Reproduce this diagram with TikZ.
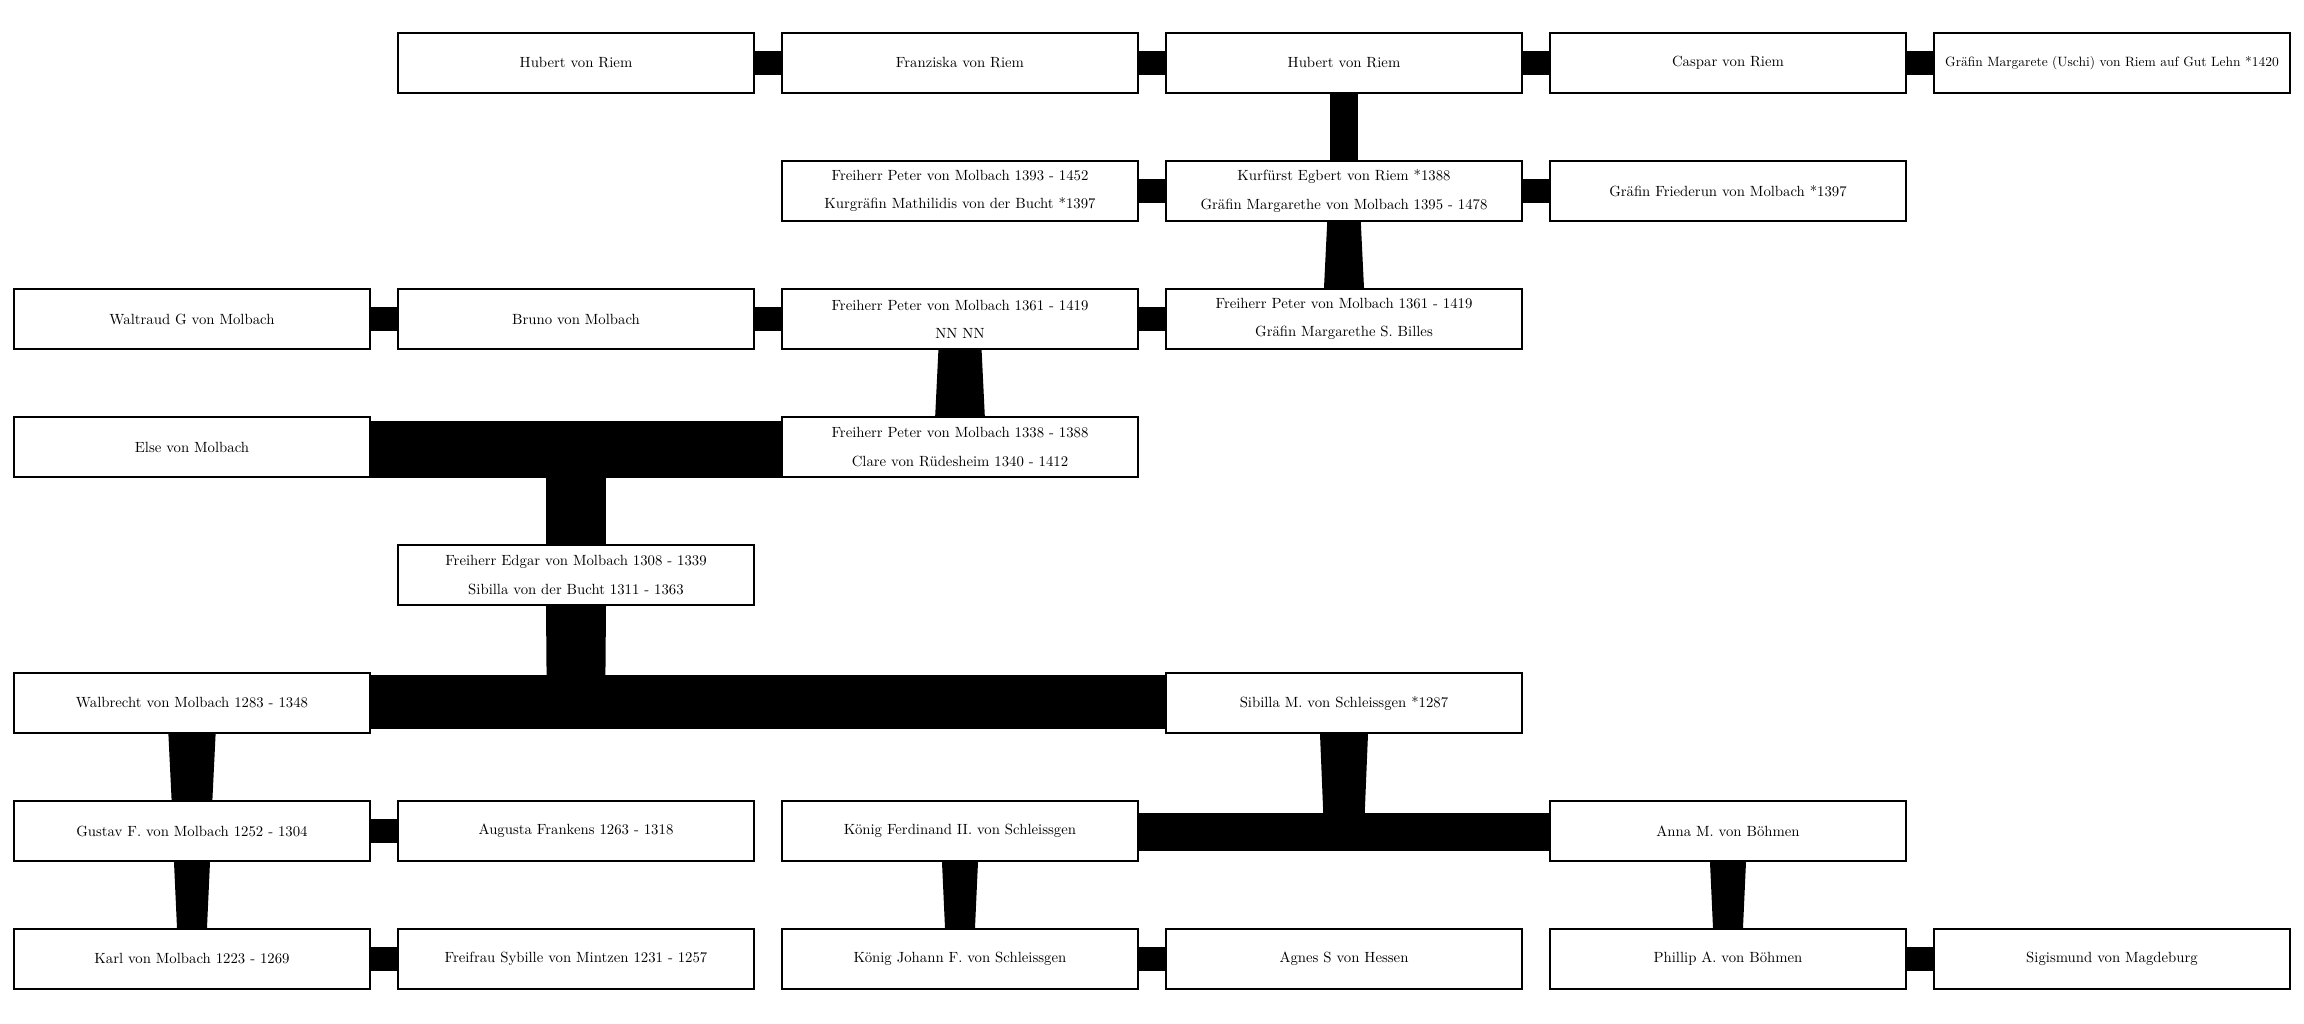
\documentclass[tikz,border=0pt]{standalone}
\begin{document}
\begin{tikzpicture}[x=96mm,y=-32mm,
  person/.style={draw,line width=.6mm,fill=white,minimum width=89mm,
    minimum height=15mm,inner sep=0pt,align=center,
    font=\fontsize{10.5}{20}\selectfont}]
  \useasboundingbox (-.5,-.4922) rectangle (5.5,7.5078);
  % one box per couple, bars for marriages and descent
  \def\mar#1#2{\fill ([yshift=3mm]#1.east) rectangle ([yshift=-3mm]#2.west);}
  \def\wide#1#2#3#4{\fill ([yshift=#3]#1.east) rectangle ([yshift=#4]#2.west);}
  \def\des#1#2#3#4{\fill ([xshift=-#3]#1) -- ([xshift=#3]#1)
    -- ([xshift=#4]#2) -- ([xshift=-#4]#2) -- cycle;}
  \node[person] (hubA) at (1,0) {Hubert von Riem};
  \node[person] (franz) at (2,0) {Franziska von Riem};
  \node[person] (hubB) at (3,0) {Hubert von Riem};
  \node[person] (caspar) at (4,0) {Caspar von Riem};
  \node[person,font=\fontsize{9.6}{20}\selectfont] (uschi) at (5,0)
    {Gräfin Margarete (Uschi) von Riem auf Gut Lehn *1420};
  \node[person] (peterA) at (2,1) {Freiherr Peter von Molbach 1393 - 1452\\Kurgräfin Mathilidis von der Bucht *1397};
  \node[person] (egbert) at (3,1) {Kurfürst Egbert von Riem *1388\\Gräfin Margarethe von Molbach 1395 - 1478};
  \node[person] (friede) at (4,1) {Gräfin Friederun von Molbach *1397};
  \node[person] (waltr) at (0,2) {Waltraud G von Molbach};
  \node[person] (bruno) at (1,2) {Bruno von Molbach};
  \node[person] (peterB) at (2,2) {Freiherr Peter von Molbach 1361 - 1419\\NN NN};
  \node[person] (peterC) at (3,2) {Freiherr Peter von Molbach 1361 - 1419\\Gräfin Margarethe S. Billes};
  \node[person] (elseM) at (0,3) {Else von Molbach};
  \node[person] (peterD) at (2,3) {Freiherr Peter von Molbach 1338 - 1388\\Clare von Rüdesheim 1340 - 1412};
  \node[person] (edgar) at (1,4) {Freiherr Edgar von Molbach 1308 - 1339\\Sibilla von der Bucht 1311 - 1363};
  \node[person] (walb) at (0,5) {Walbrecht von Molbach 1283 - 1348};
  \node[person] (sibM) at (3,5) {Sibilla M. von Schleissgen *1287};
  \node[person] (gustav) at (0,6) {Gustav F. von Molbach 1252 - 1304};
  \node[person] (augusta) at (1,6) {Augusta Frankens 1263 - 1318};
  \node[person] (ferd) at (2,6) {König Ferdinand II. von Schleissgen};
  \node[person] (anna) at (4,6) {Anna M. von Böhmen};
  \node[person] (karl) at (0,7) {Karl von Molbach 1223 - 1269};
  \node[person] (sybille) at (1,7) {Freifrau Sybille von Mintzen 1231 - 1257};
  \node[person] (johann) at (2,7) {König Johann F. von Schleissgen};
  \node[person] (agnes) at (3,7) {Agnes S von Hessen};
  \node[person] (phillip) at (4,7) {Phillip A. von Böhmen};
  \node[person] (sigis) at (5,7) {Sigismund von Magdeburg};
  \coordinate (m4) at (elseM -| edgar);
  \coordinate (m6) at (walb -| edgar);
  \coordinate (m7) at (ferd -| sibM);
  \mar{hubA}{franz} \mar{franz}{hubB} \mar{hubB}{caspar} \mar{caspar}{uschi}
  \mar{peterA}{egbert} \mar{egbert}{friede}
  \mar{waltr}{bruno} \mar{bruno}{peterB} \mar{peterB}{peterC}
  \mar{gustav}{augusta} \mar{karl}{sybille} \mar{johann}{agnes}
  \mar{phillip}{sigis}
  \wide{elseM}{peterD}{6.6mm}{-7.8mm}
  \wide{walb}{sibM}{7mm}{-6.6mm}
  \wide{ferd}{anna}{4.5mm}{-5mm}
  \des{hubB.south}{egbert.north}{3.5mm}{3.5mm}
  \des{egbert.south}{peterC.north}{4.2mm}{5mm}
  \des{peterB.south}{peterD.north}{5.4mm}{6.2mm}
  \des{m4}{edgar.north}{7.5mm}{7.5mm}
  \des{edgar.south}{m6}{7.5mm}{7.3mm}
  \des{walb.south}{gustav.north}{5.9mm}{5.1mm}
  \des{sibM.south}{m7}{6mm}{5mm}
  \des{gustav.south}{karl.north}{4.5mm}{3.75mm}
  \des{ferd.south}{johann.north}{4.5mm}{3.75mm}
  \des{anna.south}{phillip.north}{4.5mm}{3.75mm}
\end{tikzpicture}
\end{document}
